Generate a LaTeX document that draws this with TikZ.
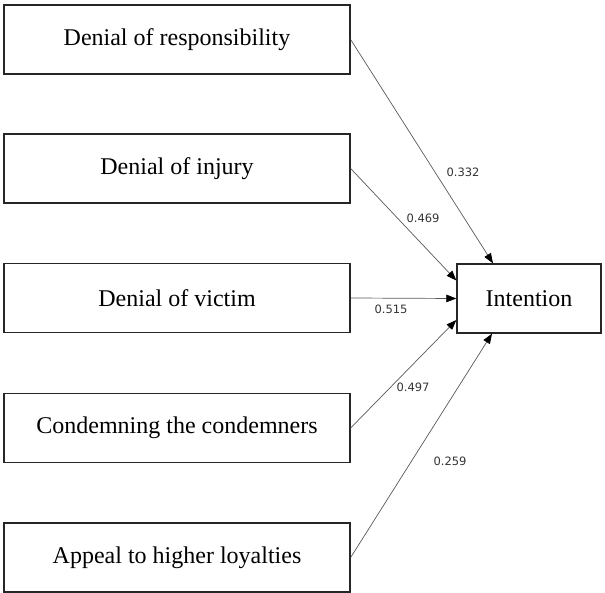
\documentclass[tikz,border=0pt]{standalone}
\usepackage{fontspec}
\setmainfont{Liberation Serif}
\newfontfamily\labelfont{DejaVu Sans}
\usetikzlibrary{arrows.meta,calc}
\tikzset{
  factor/.style={draw=black!85, line width=1.3pt, minimum width=346pt, minimum height=69pt,
    inner sep=0pt, font=\fontsize{24}{26}\selectfont},
  target/.style={factor, minimum width=144pt},
  path/.style={draw=black!65, line width=0.7pt, -{Triangle[length=10pt,width=7.5pt,fill=black,color=black]}},
  coef/.style={font=\labelfont\fontsize{11.5}{13}\selectfont, text=black!80, inner sep=0pt}
}
\begin{document}
\begin{tikzpicture}[x=1pt,y=-1pt]
  \useasboundingbox (0,0) rectangle (605,593);
  % predictor boxes
  \node[factor] (resp) at (177,39.5) {Denial of responsibility};
  \node[factor] (inj)  at (177,168.5) {Denial of injury};
  \node[factor] (vic)  at (177,298) {Denial of victim};
  \node[factor] (cond) at (177,428) {Condemning the condemners};
  \node[factor] (loy)  at (177,557.5) {Appeal to higher loyalties};
  % outcome box
  \node[target] (int) at (529,298.5) {Intention};
  % arrow end points on the outcome box
  \coordinate (t1) at ($(int.north)+(-36,0)$);
  \coordinate (t2) at ($(int.west)+(0,-18)$);
  \coordinate (t3) at (int.west);
  \coordinate (t4) at ($(int.west)+(0,21.5)$);
  \coordinate (t5) at ($(int.south)+(-37,0)$);
  % paths
  \draw[path] (resp.east) -- (t1);
  \draw[path] (inj.east) -- (t2);
  \draw[path] (vic.east) -- (t3);
  \draw[path] (cond.east) -- (t4);
  \draw[path] (loy.east) -- (t5);
  % path coefficients
  \node[coef] (c1) at (463,172) {0.332};
  \node[coef] (c2) at (423,218) {0.469};
  \node[coef] (c3) at (391,309) {0.515};
  \node[coef] (c4) at (413,387) {0.497};
  \node[coef] (c5) at (450,461) {0.259};
\end{tikzpicture}
\end{document}
